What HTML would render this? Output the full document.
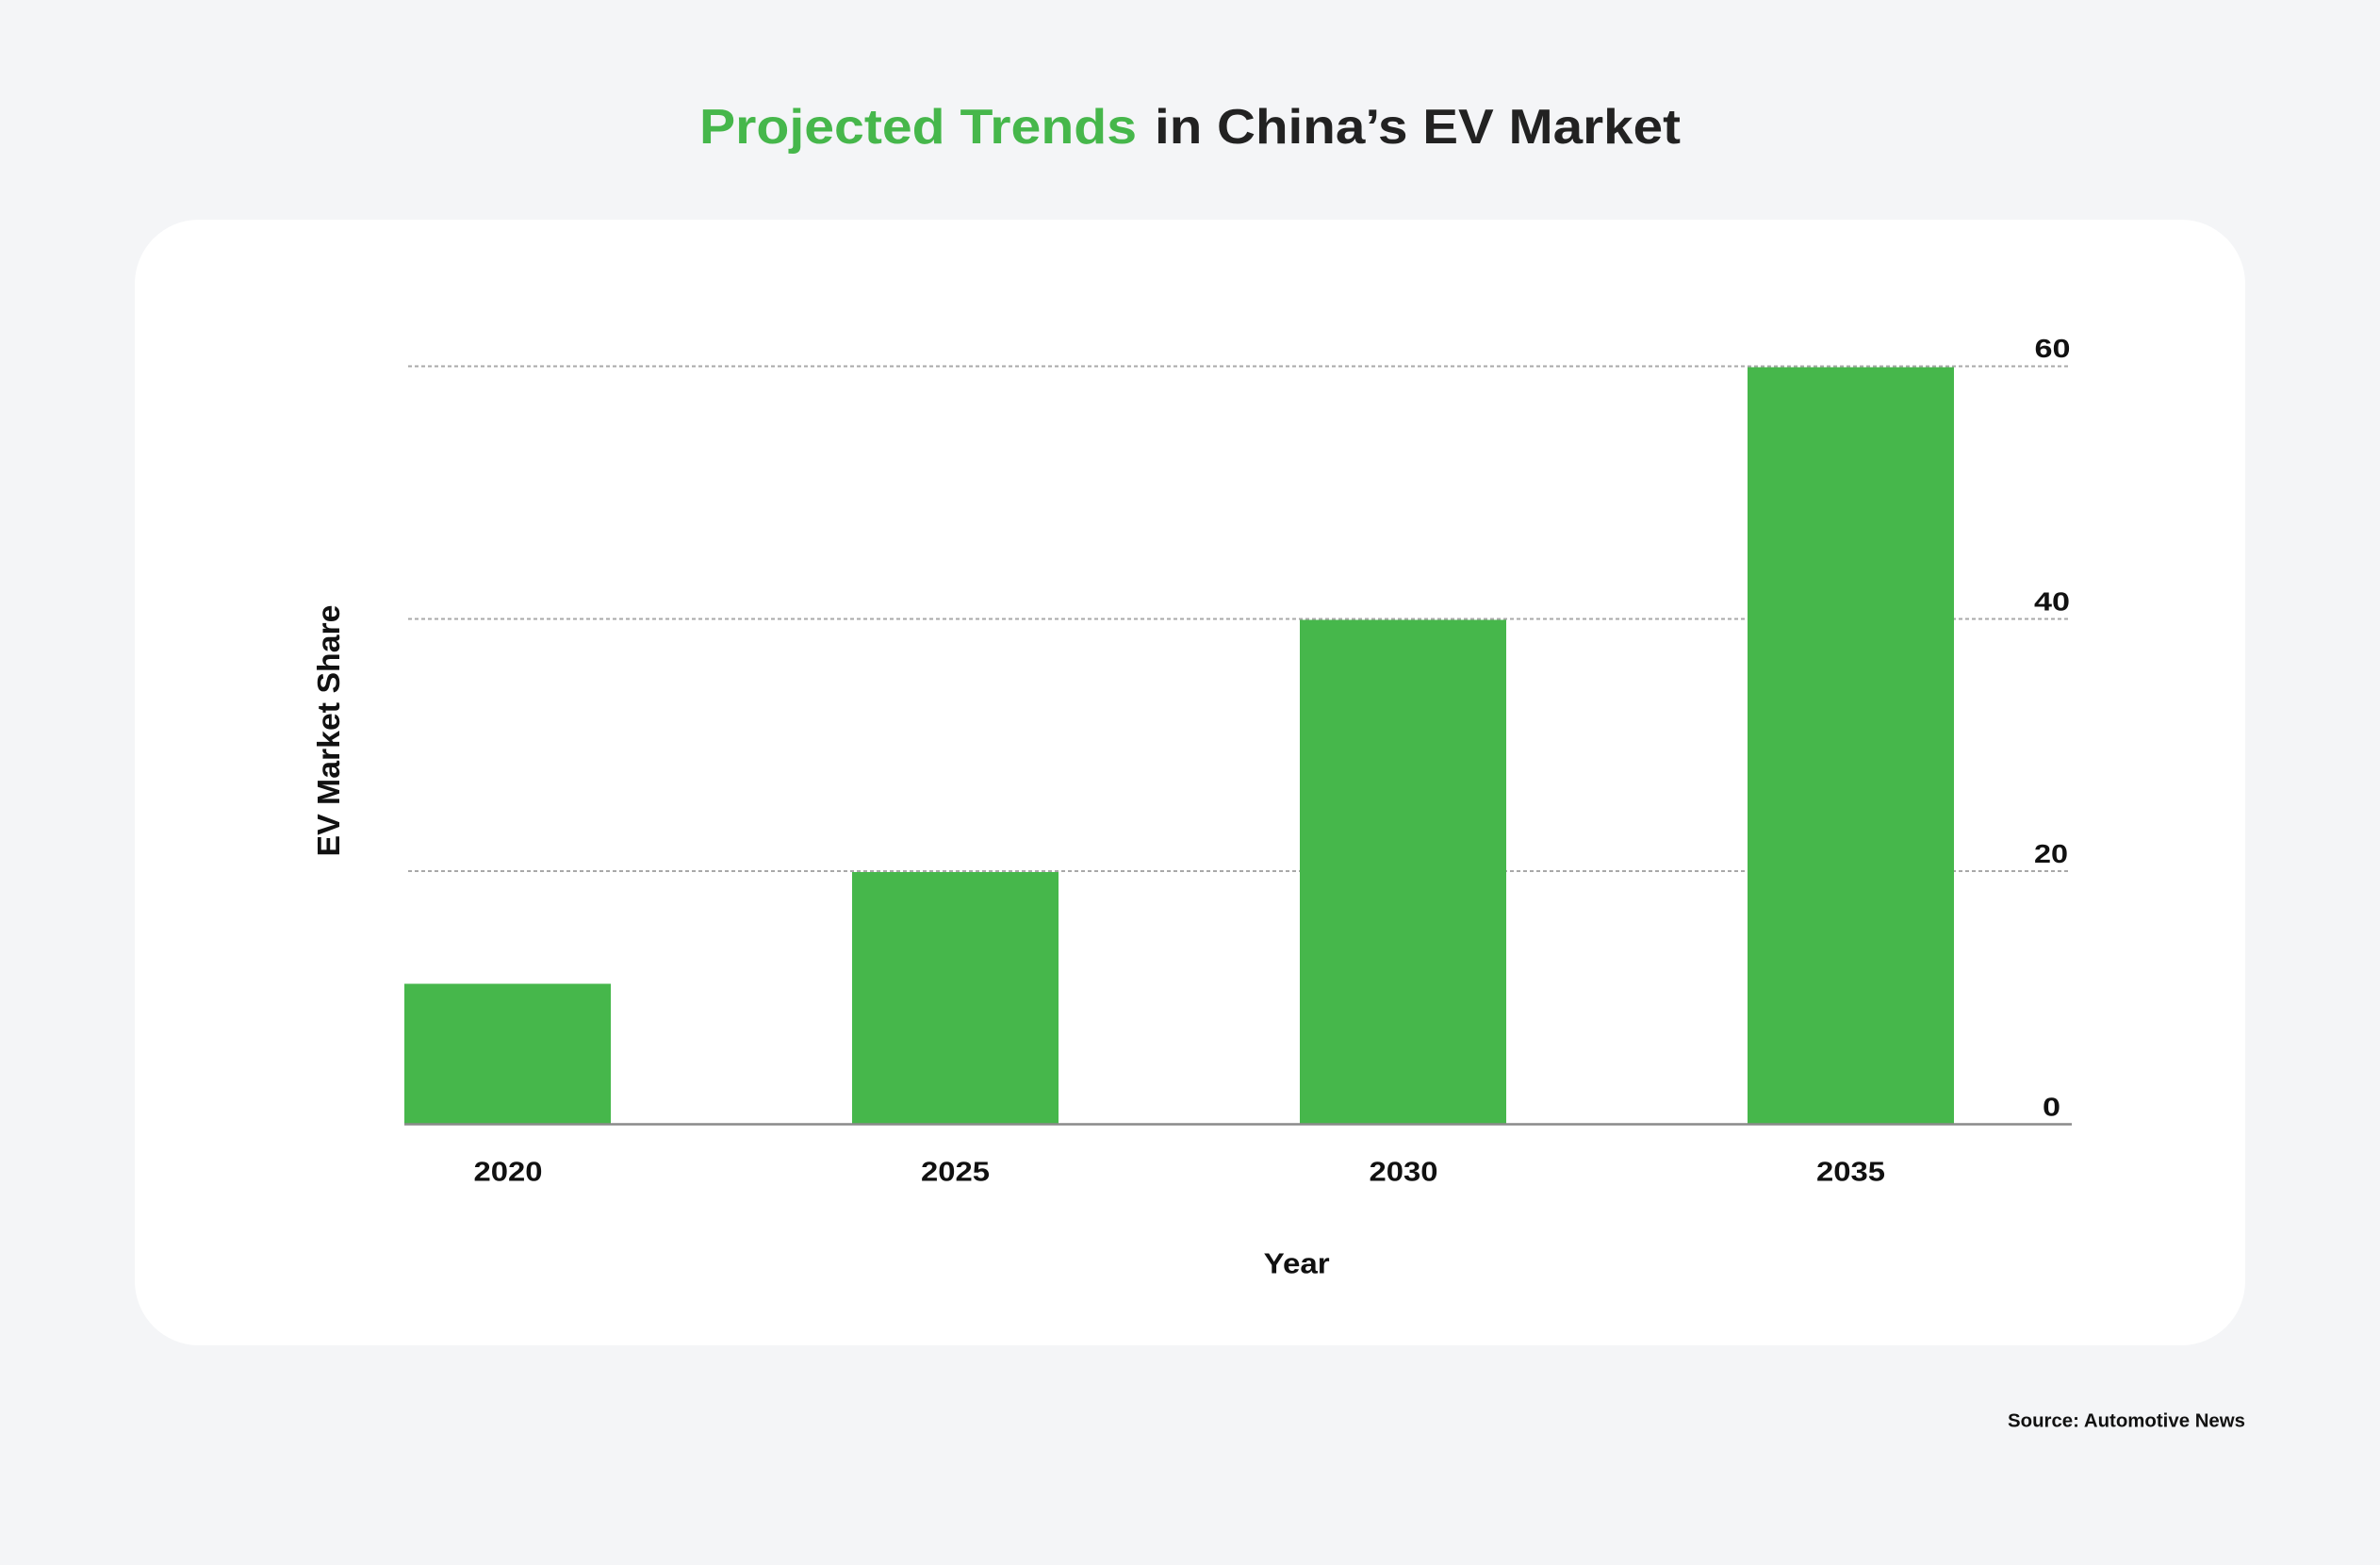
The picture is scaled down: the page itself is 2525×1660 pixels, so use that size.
<!DOCTYPE html>
<html>
<head>
<meta charset="utf-8">
<style>
  html, body { margin: 0; padding: 0; background: #F4F5F7; }
  body { width: 2525px; height: 1660px; overflow: hidden; }
  svg { display: block; }
  text { font-family: "Liberation Sans", sans-serif; font-weight: bold; }
</style>
</head>
<body>
<svg width="2525" height="1660" viewBox="0 0 2525 1660" xmlns="http://www.w3.org/2000/svg">
  <rect x="0" y="0" width="2525" height="1660" fill="#F4F5F7"/>

  <!-- Title -->
  <text x="742" y="152" font-size="52" fill="#46B74B" textLength="464" lengthAdjust="spacingAndGlyphs">Projected Trends</text>
  <text x="1225" y="152" font-size="52" fill="#222222" textLength="558" lengthAdjust="spacingAndGlyphs">in China’s EV Market</text>

  <!-- Card -->
  <rect x="143" y="233" width="2239" height="1194" rx="68" ry="68" fill="#FFFFFF"/>

  <!-- Gridlines -->
  <g stroke="#A9A9A9" stroke-width="2" stroke-dasharray="4 3" fill="none">
    <line x1="433" y1="388.5" x2="2197" y2="388.5"/>
    <line x1="433" y1="656.5" x2="2197" y2="656.5"/>
    <line x1="433" y1="924" x2="2197" y2="924"/>
  </g>

  <!-- Bars -->
  <g fill="#46B74B">
    <rect x="429" y="1043.5" width="219" height="149"/>
    <rect x="904" y="925" width="219" height="267.5"/>
    <rect x="1379" y="657.5" width="219" height="535"/>
    <rect x="1854" y="389.5" width="219" height="803"/>
  </g>

  <!-- Baseline -->
  <line x1="429" y1="1192.5" x2="2198" y2="1192.5" stroke="#8A8A8A" stroke-width="2.5"/>

  <!-- Y tick labels (right side) -->
  <g font-size="28" fill="#111111" text-anchor="middle">
    <text x="2177.5" y="379" textLength="38" lengthAdjust="spacingAndGlyphs">60</text>
    <text x="2177" y="647.5" textLength="38" lengthAdjust="spacingAndGlyphs">40</text>
    <text x="2176" y="915" textLength="36" lengthAdjust="spacingAndGlyphs">20</text>
    <text x="2176.5" y="1183.3" textLength="19" lengthAdjust="spacingAndGlyphs">0</text>
  </g>

  <!-- X tick labels -->
  <g font-size="29" fill="#111111" text-anchor="middle">
    <text x="539" y="1252.5" textLength="73" lengthAdjust="spacingAndGlyphs">2020</text>
    <text x="1013.5" y="1252.5" textLength="73" lengthAdjust="spacingAndGlyphs">2025</text>
    <text x="1489" y="1252.5" textLength="73" lengthAdjust="spacingAndGlyphs">2030</text>
    <text x="1963.5" y="1252.5" textLength="73" lengthAdjust="spacingAndGlyphs">2035</text>
  </g>

  <!-- Axis titles -->
  <text x="1375.7" y="1350.7" font-size="31" fill="#111111" text-anchor="middle" textLength="70" lengthAdjust="spacingAndGlyphs">Year</text>
  <text transform="translate(360,775) rotate(-90)" x="0" y="0" font-size="33" fill="#111111" text-anchor="middle" textLength="267" lengthAdjust="spacingAndGlyphs">EV Market Share</text>

  <!-- Source -->
  <text x="2382" y="1513.3" font-size="20" fill="#111111" text-anchor="end" textLength="252" lengthAdjust="spacingAndGlyphs">Source: Automotive News</text>
</svg>
</body>
</html>
